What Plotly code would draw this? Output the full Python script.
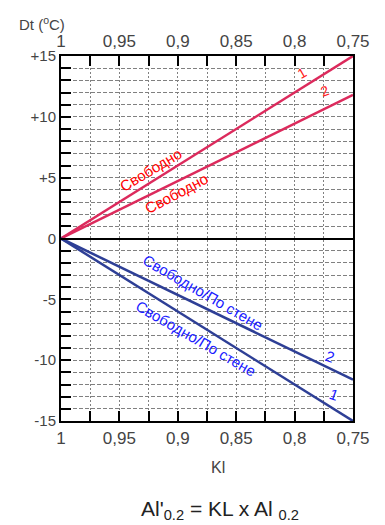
import plotly.graph_objects as go

# Data
kl_start = 1.0
kl_end = 0.75
red_curves = {"1": 15.0, "2": 11.8}
blue_curves = {"1": -15.0, "2": -11.6}
x_tick_vals = [1, 0.95, 0.9, 0.85, 0.8, 0.75]
x_tick_text = ["1", "0,95", "0,9", "0,85", "0,8", "0,75"]
y_tick_vals = [15, 10, 5, 0, -5, -10, -15]
y_tick_text = ["+15", "+10", "+5", "0", "-5", "-10", "-15"]

RED = "#dc2a5c"
BLUE = "#2e3f96"
TXT = "#444444"
GRID = "#808080"
FONT = "Liberation Sans, Arial, sans-serif"

fig = go.Figure()

for name, end in red_curves.items():
    fig.add_trace(go.Scatter(x=[kl_start, kl_end], y=[0, end], mode="lines",
                             line=dict(color=RED, width=2.5), showlegend=False, hoverinfo="skip"))
for name, end in blue_curves.items():
    fig.add_trace(go.Scatter(x=[kl_start, kl_end], y=[0, end], mode="lines",
                             line=dict(color=BLUE, width=2.5), showlegend=False, hoverinfo="skip"))

# invisible trace for top axis
fig.add_trace(go.Scatter(x=[kl_start, kl_end], y=[0, 0], xaxis="x2", mode="lines",
                         line=dict(width=0), showlegend=False, hoverinfo="skip", opacity=0))

axis_common = dict(
    range=[1, 0.75], showline=True, linecolor="black", linewidth=2,
    ticks="inside", ticklen=10, tickwidth=1.5, tickcolor="black",
    tickvals=x_tick_vals, ticktext=x_tick_text,
    tickfont=dict(family=FONT, size=17, color=TXT),
    minor=dict(dtick=0.025, tick0=0.75, ticks="inside", ticklen=10, tickwidth=1.5,
               tickcolor="black", showgrid=True, gridcolor=GRID, griddash="2px,2px", gridwidth=1),
    zeroline=False,
)

fig.update_layout(
    width=385, height=525,
    margin=dict(l=61, r=32, t=56, b=104),
    paper_bgcolor="white", plot_bgcolor="white",
    xaxis=dict(**axis_common, showgrid=True, gridcolor=GRID, griddash="2px,2px", gridwidth=1,
               mirror=False, ticklabelstandoff=1),
    xaxis2=dict(**axis_common, overlaying="x", side="top", anchor="y", showgrid=False),
    yaxis=dict(range=[-15, 15], showline=True, linecolor="black", linewidth=2, mirror=True,
               ticks="inside", ticklen=10, tickwidth=1.5, tickcolor="black",
               tickvals=y_tick_vals, ticktext=y_tick_text,
               tickfont=dict(family=FONT, size=15, color=TXT),
               showgrid=True, gridcolor=GRID, griddash="4px,2px", gridwidth=1,
               minor=dict(dtick=1, ticks="inside", ticklen=10, tickwidth=1.5, tickcolor="black",
                          showgrid=True, gridcolor=GRID, griddash="4px,2px", gridwidth=1),
               zeroline=True, zerolinecolor="black", zerolinewidth=2),
    showlegend=False,
)

ann = []
ann.append(dict(x=0.923, y=5.7, text="Свободно", textangle=-31, font=dict(family=FONT, size=15, color="#ff0000")))
ann.append(dict(x=0.9015, y=3.7, text="Свободно", textangle=-28, font=dict(family=FONT, size=15, color="#ff0000")))
ann.append(dict(x=0.8784, y=-4.47, text="Свободно/По стене", textangle=30, font=dict(family=FONT, size=15, color="#1a1aff")))
ann.append(dict(x=0.8844, y=-8.24, text="Свободно/По стене", textangle=30, font=dict(family=FONT, size=15, color="#1a1aff")))
ann.append(dict(x=0.7937, y=13.6, text="1", textangle=-30, font=dict(family=FONT, size=14, color="#ff2020")))
ann.append(dict(x=0.774, y=12.1, text="2", textangle=-20, font=dict(family=FONT, size=14, color="#ff2020")))
ann.append(dict(x=0.7697, y=-9.7, text="2", textangle=20, font=dict(family=FONT, size=15, color="#1a1aff")))
ann.append(dict(x=0.7663, y=-12.8, text="1", textangle=20, font=dict(family=FONT, size=15, color="#1a1aff")))
for a in ann:
    a.update(xref="x", yref="y", showarrow=False)

# page-positioned labels (pixel centres converted to paper coordinates)
plot_w = 385 - 61 - 32
plot_h = 525 - 56 - 104


def px_ann(px, py, text, size, color):
    return dict(x=(px - 61) / plot_w, y=(525 - 104 - py) / plot_h, xref="paper", yref="paper",
                xanchor="center", yanchor="middle", text=text, showarrow=False,
                font=dict(family=FONT, size=size, color=color))


ann.append(px_ann(42, 24, "Dt (<sup>o</sup>C)", 15, TXT))
ann.append(px_ann(218, 467, "Kl", 16, TXT))
ann.append(px_ann(220, 510, "Al'<sub>0.2</sub> = KL x Al <sub>0.2</sub>", 21, "#222222"))

fig.update_layout(annotations=ann)
fig.write_html("out.html")
